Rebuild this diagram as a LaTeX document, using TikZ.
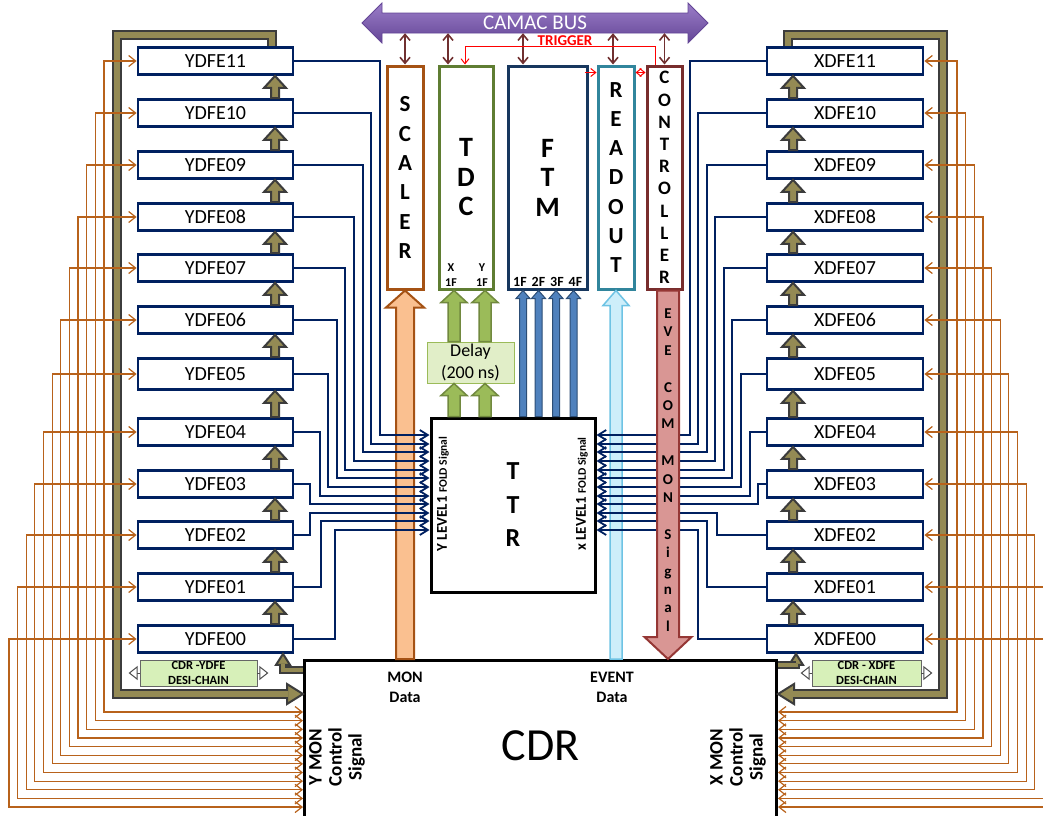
\documentclass[tikz,border=0pt]{standalone}
\usepackage{fontspec}
\setmainfont{Carlito}
\usetikzlibrary{arrows.meta,calc}

\definecolor{navyline}{RGB}{0,32,96}
\definecolor{monorange}{RGB}{184,98,27}
\definecolor{chainolive}{RGB}{148,138,84}
\definecolor{chaingray}{RGB}{60,60,60}
\definecolor{buslight}{RGB}{155,125,200}
\definecolor{busdark}{RGB}{100,70,150}
\definecolor{busred}{RGB}{112,48,48}
\definecolor{scalerline}{RGB}{165,82,20}
\definecolor{scalerfill}{RGB}{250,192,144}
\definecolor{tdcline}{RGB}{95,125,50}
\definecolor{tdcfill}{RGB}{155,187,89}
\definecolor{tdcdark}{RGB}{113,137,63}
\definecolor{ftmline}{RGB}{23,55,94}
\definecolor{ftmfill}{RGB}{79,129,189}
\definecolor{ftmdark}{RGB}{44,77,117}
\definecolor{readline}{RGB}{49,133,156}
\definecolor{readfill}{RGB}{205,238,250}
\definecolor{readdark}{RGB}{110,195,228}
\definecolor{ctrlline}{RGB}{120,45,45}
\definecolor{ctrlfill}{RGB}{217,150,148}
\definecolor{ctrldark}{RGB}{149,55,53}
\definecolor{delayfill}{RGB}{225,238,200}
\definecolor{desifill}{RGB}{215,240,185}

% fat vertical arrow: style, from, to, half body, half head, head length
\newcommand{\fatarrow}[6]{%
  \path #2 coordinate (fatfrom) #3 coordinate (fatto);
  \filldraw[#1] ($(fatfrom)+(-#4,0)$) -- ($(fatto)+(-#4,#6)$) -- ($(fatto)+(-#5,#6)$) -- (fatto)
    -- ($(fatto)+(#5,#6)$) -- ($(fatto)+(#4,#6)$) -- ($(fatfrom)+(#4,0)$) -- cycle;}

\begin{document}
\begin{tikzpicture}[x=1pt,y=-1pt,
  dfe/.style={draw=navyline, line width=2.8pt, fill=white, minimum width=155pt, inner sep=0pt, font=\fontsize{20}{22}\selectfont},
  module/.style={fill=white, line width=3pt, minimum height=223pt, inner sep=0pt, align=center, font=\bfseries\fontsize{23}{29.3}\selectfont},
  foldline/.style={draw=navyline, line width=1.8pt, -{Straight Barb[length=8pt,width=10pt]}},
  monline/.style={draw=monorange, line width=1.2pt, {Straight Barb[length=7pt,width=11pt]}-{Straight Barb[length=7pt,width=11pt]}},
  chain/.style={fill=chainolive, draw=chaingray, line width=2pt},
  chainband/.style={draw=chaingray, line width=2pt, double=chainolive, double distance=6pt},
  busline/.style={draw=busred, line width=1.6pt, {Straight Barb[length=6pt,width=10pt]}-{Straight Barb[length=6pt,width=10pt]}},
  trig/.style={draw=red, line width=1pt, -{Straight Barb[length=5pt,width=8pt]}},
  boldlabel/.style={font=\bfseries\fontsize{16}{20}\selectfont, align=center, inner sep=0pt},
  desi/.style={fill=desifill, draw=gray!80!black, line width=0.8pt, minimum height=26pt, inner sep=0pt, align=center, font=\bfseries\fontsize{12.5}{15}\selectfont},
  desitip/.style={draw=gray!60!black, line width=1pt, -{Triangle[length=9pt,width=14pt,fill=white]}}
]
\useasboundingbox (0,0) rectangle (1043,815);
\clip (0,0) rectangle (1043,815);

% CAMAC bus
\path[top color=buslight, bottom color=busdark, draw=busdark, line width=0.8pt]
  (362,23) -- (382,3) -- (382,13) -- (688,13) -- (688,3) -- (708,23) -- (688,43) -- (688,33) -- (382,33) -- (382,43) -- cycle;
\node[text=white, font=\fontsize{21}{24}\selectfont, minimum height=20pt, inner sep=0pt] (bus) at (535,23) {CAMAC BUS};

% crate modules
\node[module, draw=scalerline, minimum width=36pt] (SCALER) at (405,177.5) {S\\C\\A\\L\\E\\R};
\node[module, draw=tdcline, minimum width=54pt, font=\bfseries\fontsize{28}{29.5}\selectfont] (TDC) at (466,177.5) {T\\D\\C};
\node[module, draw=ftmline, minimum width=79pt, font=\bfseries\fontsize{28}{29.5}\selectfont] (FTM) at (547.5,177.5) {F\\T\\M};
\node[module, draw=readline, minimum width=36pt] (READOUT) at (616,177.5) {R\\E\\A\\D\\O\\U\\T};
\node[module, draw=ctrlline, minimum width=35pt, font=\bfseries\fontsize{19}{22.2}\selectfont] (CONTROLLER) at (664.5,177.5) {C\\O\\N\\T\\R\\O\\L\\L\\E\\R};
\node[boldlabel, font=\bfseries\fontsize{12}{15}\selectfont] (tdcx) at (451,275) {X\\1F};
\node[boldlabel, font=\bfseries\fontsize{12}{15}\selectfont] (tdcy) at (482,275) {Y\\1F};
\node[boldlabel, font=\bfseries\fontsize{14}{16}\selectfont] (ftm1) at (520,282) {1F};
\node[boldlabel, font=\bfseries\fontsize{14}{16}\selectfont] (ftm2) at (538.5,282) {2F};
\node[boldlabel, font=\bfseries\fontsize{14}{16}\selectfont] (ftm3) at (557,282) {3F};
\node[boldlabel, font=\bfseries\fontsize{14}{16}\selectfont] (ftm4) at (575.5,282) {4F};

% bus connections
\draw[busline] (bus.south -| SCALER.north) -- (SCALER.north);
\draw[busline] (bus.south -| 448,0) -- (TDC.north -| 448,0);
\draw[busline] (bus.south -| 523,0) -- (FTM.north -| 523,0);
\draw[busline] (bus.south -| 613,0) -- (READOUT.north -| 613,0);
\draw[busline] (bus.south -| CONTROLLER.north) -- (CONTROLLER.north);

% trigger
\draw[trig] (CONTROLLER.north -| 655,0) -- ++(0,-18) -| (TDC.north -| 465,0);
\node[text=red, font=\bfseries\fontsize{15}{18}\selectfont, inner sep=0pt] (trigger) at (565,41) {TRIGGER};
\draw[trig] ($(FTM.north east)+(-4,8)$) -- ($(READOUT.north west)+(0,8)$);
\draw[trig, {Straight Barb[length=5pt,width=8pt]}-{Straight Barb[length=5pt,width=8pt]}] ($(READOUT.north east)+(0,8)$) -- ($(CONTROLLER.north west)+(0,8)$);

% CDR, TTR, delay
\node[draw, line width=3pt, fill=white, minimum width=472pt, minimum height=170pt, anchor=north west, inner sep=0pt, font=\fontsize{46}{50}\selectfont] (CDR) at (303,659) {CDR};
\node[draw, line width=3pt, fill=white, minimum width=164pt, minimum height=174pt, inner sep=0pt, align=center, font=\bfseries\fontsize{26}{33.5}\selectfont] (TTR) at (513,505) {T\\T\\R};
\node[draw=tdcfill, line width=1pt, fill=delayfill, minimum width=87pt, minimum height=41pt, inner sep=0pt, align=center, font=\fontsize{18}{22}\selectfont] (Delay) at (470.5,362.5) {Delay\\(200 ns)};

% front-end boards
\foreach \i/\y/\h in {11/61/27,10/113/27,09/165/27,08/217/27,07/268/27,06/320/27,05/374/31,04/432/27,03/484/27,02/535/27,01/587/27,00/639/27}{
  \node[dfe, minimum height=\h pt] (Y\i) at (215.5,\y) {YDFE\i};
  \node[dfe, minimum height=\h pt, minimum width=156pt] (X\i) at (845,\y) {XDFE\i};
}

% desi chain
\coordinate (ychain) at (0,694 -| CDR.west);
\filldraw[chain] (ychain) -- ++(-16,-10) -- ++(0,20) -- cycle;
\draw[chainband] (Y11.north -| 272,0) -- (272,35) -- (117,35) -- (117,694) -- ($(ychain)+(-15,0)$);
\coordinate (xchain) at (0,694 -| CDR.east);
\filldraw[chain] (xchain) -- ++(16,-10) -- ++(0,20) -- cycle;
\draw[chainband] (X11.north -| 788,0) -- (788,35) -- (943,35) -- (943,694) -- ($(xchain)+(15,0)$);
\coordinate (ytip) at (Y00.south -| 283,0);
\filldraw[chain] (ytip) -- ++(-7,11) -- ++(14,0) -- cycle;
\draw[chainband, line width=1.6pt, double distance=4pt] (0,670 -| CDR.west) -| ($(ytip)+(0,10)$);
\coordinate (xtip) at (X00.south -| 796,0);
\filldraw[chain] (xtip) -- ++(-7,11) -- ++(14,0) -- cycle;
\draw[chainband, line width=1.6pt, double distance=4pt] (0,665 -| CDR.east) -| ($(xtip)+(0,10)$);
\foreach \a/\b in {00/01,01/02,02/03,03/04,04/05,05/06,06/07,07/08,08/09,09/10,10/11}{
  \fatarrow{chain}{(Y\a.north -| 275,0)}{(Y\b.south -| 275,0)}{4}{11}{12}
  \fatarrow{chain}{(X\a.north -| 793,0)}{(X\b.south -| 793,0)}{4}{11}{12}
}
\node[desi, minimum width=117pt] (ydesi) at (198.5,673) {CDR -YDFE\\DESI-CHAIN};
\draw[desitip] (ydesi.west) -- ++(-11,0);
\draw[desitip] (ydesi.east) -- ++(11,0);
\node[desi, minimum width=109pt] (xdesi) at (866.5,673) {CDR - XDFE\\DESI-CHAIN};
\draw[desitip] (xdesi.west) -- ++(-11,0);
\draw[desitip] (xdesi.east) -- ++(11,0);

% MON control signals
\foreach \i [count=\k from 0] in {11,10,09,08,07,06,05,04,03,02,01,00}{
  \pgfmathsetmacro{\mx}{104-8.64*\k}
  \pgfmathsetmacro{\my}{712+8.64*\k}
  \draw[monline] (\mx,\my -| CDR.west) -- (\mx,\my) |- (Y\i.west);
  \pgfmathsetmacro{\mx}{957+8.64*\k}
  \draw[monline] (\mx,\my -| CDR.east) -- (\mx,\my) |- (X\i.east);
}

% data paths
\fatarrow{fill=scalerfill, draw=scalerline, line width=2pt}{(CDR.north -| SCALER.south)}{(SCALER.south)}{9}{19}{17}
\fatarrow{fill=readfill, draw=readdark, line width=1.5pt}{(CDR.north -| READOUT.south)}{(READOUT.south)}{6}{13}{15}
\foreach \gx in {454,485}{
  \fatarrow{fill=tdcfill, draw=tdcdark, line width=1.5pt}{(TTR.north -| \gx,0)}{(Delay.south -| \gx,0)}{6}{13}{12}
  \fatarrow{fill=tdcfill, draw=tdcdark, line width=1.5pt}{(Delay.north -| \gx,0)}{(TDC.south -| \gx,0)}{6}{13}{12}
}
\foreach \fx in {523,538.5,556,573.5}{
  \fatarrow{fill=ftmfill, draw=ftmdark, line width=1pt}{(TTR.north -| \fx,0)}{(FTM.south -| \fx,0)}{3.5}{7}{8}
}

% level1 fold signals
\foreach \i/\vx/\vy in {11/380/435,10/371/444,09/363/452,08/354/461,07/345/470,06/337/478,05/328/487,04/320/496,03/310/504,02/310/513,01/321/521,00/335/530}{
  \draw[foldline] (Y\i.east) -| (\vx,\vy) -- (\vx,\vy -| TTR.west);
}
\foreach \i/\vx/\vy in {11/690/435,10/698/444,09/707/452,08/715/461,07/724/470,06/732/478,05/741/487,04/750/496,03/758/504,02/717/513,01/707/521,00/698/530}{
  \draw[foldline] (X\i.west) -| (\vx,\vy) -- (\vx,\vy -| TTR.east);
}

% event common mon signal
\fatarrow{fill=ctrlfill, draw=ctrldark, line width=2pt}{(CONTROLLER.south -| 668,0)}{(CDR.north -| 668,0)}{11}{23.5}{-22}
\node[align=center, inner sep=0pt, font=\bfseries\fontsize{15}{18.4}\selectfont] (evemon) at (668,470)
  {E\\V\\E\\[18.4pt]C\\O\\M\\[18.4pt]M\\O\\N\\[18.4pt]S\\i\\g\\n\\a\\l};

% labels
\node[rotate=90, inner sep=0pt, font=\bfseries\fontsize{15}{16}\selectfont] (ylevel) at (443,494) {Y LEVEL1 {\fontsize{11.5}{13}\selectfont FOLD Signal}};
\node[rotate=90, inner sep=0pt, font=\bfseries\fontsize{15}{16}\selectfont] (xlevel) at (582,494) {x LEVEL1 {\fontsize{11.5}{13}\selectfont FOLD Signal}};
\node[boldlabel] (mondata) at (405,687) {MON\\Data};
\node[boldlabel] (eventdata) at (612,687) {EVENT\\Data};
\node[boldlabel, rotate=90, font=\bfseries\fontsize{19}{20}\selectfont] (ymon) at (337,757) {Y MON\\Control\\Signal};
\node[boldlabel, rotate=90, font=\bfseries\fontsize{19}{20}\selectfont] (xmon) at (738,757) {X MON\\Control\\Signal};
\end{tikzpicture}
\end{document}
